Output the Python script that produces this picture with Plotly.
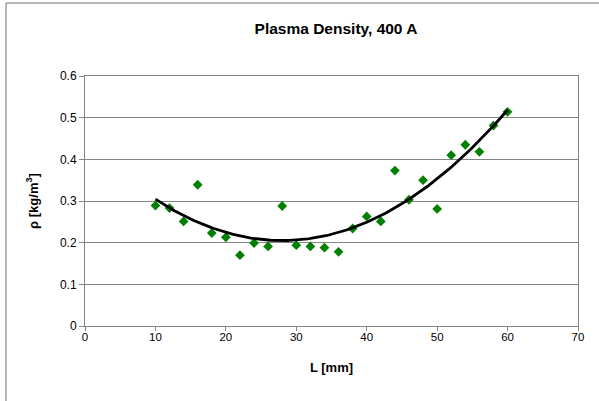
import numpy as np
import plotly.graph_objects as go

L_mm = [10, 12, 14, 16, 18, 20, 22, 24, 26, 28, 30, 32, 34, 36, 38, 40,
        42, 44, 46, 48, 50, 52, 54, 56, 58, 60]
rho = [0.289, 0.283, 0.251, 0.339, 0.223, 0.213, 0.170, 0.199, 0.191, 0.288,
       0.194, 0.191, 0.188, 0.178, 0.234, 0.263, 0.251, 0.373, 0.303, 0.350,
       0.281, 0.410, 0.435, 0.418, 0.481, 0.514]
x_ticks = [0, 10, 20, 30, 40, 50, 60, 70]
y_ticks = [0, 0.1, 0.2, 0.3, 0.4, 0.5, 0.6]
y_tick_text = ["0", "0.1", "0.2", "0.3", "0.4", "0.5", "0.6"]

# 2nd order polynomial trendline fitted to the data (as in the original chart)
coef = np.polyfit(L_mm, rho, 2)
x_fit = np.linspace(min(L_mm), max(L_mm), 200)
y_fit = np.polyval(coef, x_fit)

fig = go.Figure()
fig.add_trace(go.Scatter(
    x=L_mm, y=rho, mode="markers",
    marker=dict(symbol="diamond", size=7.5, color="#008000",
                line=dict(width=0)),
    showlegend=False, cliponaxis=False))
fig.add_trace(go.Scatter(
    x=x_fit, y=y_fit, mode="lines",
    line=dict(color="black", width=2.8),
    showlegend=False))

grid = "#858585"
font = "Liberation Sans, Arial, sans-serif"

fig.update_layout(
    width=599, height=401,
    margin=dict(l=85, r=21, t=76, b=75),
    paper_bgcolor="white", plot_bgcolor="white",
    font=dict(family=font, size=11, color="black"),
    title=dict(text="<b>Plasma Density, 400 A</b>", x=336 / 599,
               xanchor="center", y=1 - 29 / 401, yanchor="middle",
               font=dict(size=15.5, family=font, color="black")),
    xaxis=dict(range=[0, 70], tickvals=x_ticks, ticks="outside",
               ticklen=4, tickcolor=grid, tickwidth=1,
               showgrid=False, zeroline=False, automargin=False,
               showline=True, linecolor=grid, linewidth=1, mirror=True,
               ticklabelstandoff=-4,
               title=dict(text="<b>L [mm]</b>", font=dict(size=13), standoff=21),
               tickfont=dict(size=11.5)),
    yaxis=dict(range=[0, 0.6], tickvals=y_ticks, ticktext=y_tick_text,
               ticks="outside", ticklen=5, tickcolor=grid, tickwidth=1,
               showgrid=True, gridcolor=grid, gridwidth=1, zeroline=False,
               showline=True, linecolor=grid, linewidth=1, mirror=True,
               automargin=False,
               title=dict(text="<b>ρ [kg/m<sup>3</sup>]</b>", font=dict(size=13),
                          standoff=18),
               tickfont=dict(size=12)),
    shapes=[dict(type="rect", xref="paper", yref="paper",
                 x0=(6 - 85) / 493, x1=(610 - 85) / 493,
                 y0=(326 - 410) / 250, y1=(326 - 3) / 250,
                 line=dict(color="#6e6e6e", width=1), layer="below")],
)

fig.write_html("out.html",
               config={"displayModeBar": False},
               post_script="document.body.style.margin='0';"
                           "document.body.style.overflow='hidden';")
